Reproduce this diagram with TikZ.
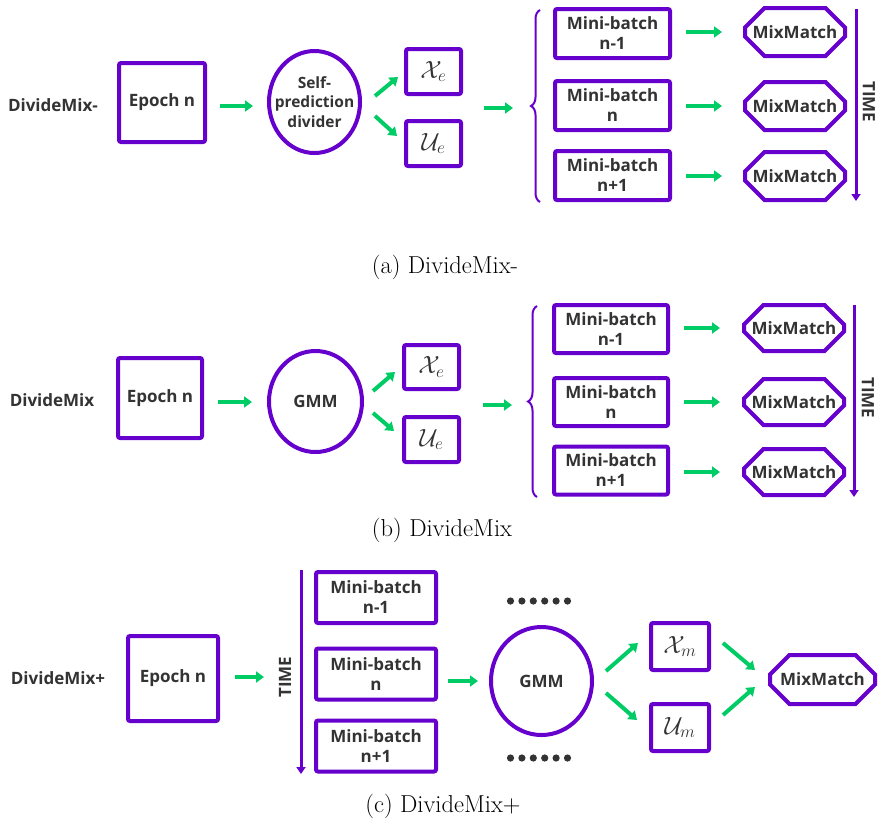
\documentclass[tikz,border=0pt]{standalone}
\usepackage{fontspec}
\setsansfont{Open Sans}
\usetikzlibrary{shapes.geometric,shapes.misc,arrows.meta,decorations.pathreplacing}
\definecolor{pur}{RGB}{102,0,204}
\definecolor{grn}{RGB}{0,204,102}
\definecolor{txt}{RGB}{51,51,51}
\newcommand{\labfont}{\sffamily\bfseries\fontsize{17}{20}\selectfont}
\newcommand{\capfont}{\rmfamily\fontsize{24.5}{28}\selectfont}
\newcommand{\mathfont}{\fontsize{25}{28}\selectfont}
\tikzset{
  lbl/.style={font=\labfont, text=txt, align=center, inner sep=0pt},
  sqbox/.style={draw=pur, line width=4pt, rounded corners=2pt, fill=white, font=\labfont, text=txt, align=center, inner sep=0pt},
  mathbox/.style={sqbox, font=\mathfont},
  circbox/.style={ellipse, draw=pur, line width=4pt, inner sep=0pt},
  mmbox/.style={chamfered rectangle, chamfered rectangle xsep=9pt, chamfered rectangle ysep=13pt, draw=pur, line width=4pt, font=\labfont, text=txt, align=center, inner sep=0pt, minimum width=100pt, minimum height=48pt},
  garrow/.style={draw=grn, line width=4pt, -{Triangle[length=8pt,width=11pt]}},
  timearrow/.style={draw=pur, line width=3pt, -{Triangle[length=7pt,width=9pt]}},
  timelbl/.style={font=\labfont, text=txt, inner sep=0pt},
  bracestyle/.style={draw=pur, line width=2pt, decorate, decoration={brace, amplitude=9pt}},
  caption/.style={font=\capfont, text=black, inner sep=0pt},
}
\begin{document}
\begin{tikzpicture}[x=1pt,y=-1pt]
\useasboundingbox (0,0) rectangle (878,820);
% ---------- (a) ----------
\node[lbl] (ta) at (53,105) {DivideMix-};
\node[sqbox, minimum width=86pt, minimum height=79pt] (epa) at (162,102.5) {Epoch n};
\node[circbox, minimum width=91pt, minimum height=102pt] (spa) at (314.5,102) {};
\node[lbl, font=\sffamily\bfseries\fontsize{15.5}{19.5}\selectfont] (spat) at (spa) {Self-\\prediction\\divider};
\node[mathbox, minimum width=55pt, minimum height=45pt] (xea) at (433.5,71.5) {$\mathcal{X}_e$};
\node[mathbox, minimum width=55pt, minimum height=45pt] (uea) at (433.5,143.5) {$\mathcal{U}_e$};
\foreach \i/\y/\t in {1/33.5/n-1, 2/105.5/n, 3/175.5/n+1}{
  \node[sqbox, minimum width=115pt, minimum height=49pt] (mba\i) at (612.5,\y) {Mini-batch\\\t};
}
\foreach \i/\y in {1/32, 2/106, 3/176}{
  \node[mmbox] (mma\i) at (795,\y) {MixMatch};
}
\draw[garrow, shorten <=13pt, shorten >=14pt] (epa.east |- 0,106) -- (spa.west |- 0,106);
\coordinate (a1s) at (375,96); \coordinate (a1e) at (398,77);
\coordinate (a2s) at (375,116); \coordinate (a2e) at (397,136);
\draw[garrow] (a1s) -- (a1e);
\draw[garrow] (a2s) -- (a2e);
\coordinate (a3s) at (484,108); \coordinate (a3e) at (513,108);
\draw[garrow] (a3s) -- (a3e);
\coordinate (bra1) at (540,202); \coordinate (bra2) at (540,10);
\draw[bracestyle] (bra1) -- (bra2);
\foreach \i in {1,2,3}{
  \draw[garrow, shorten <=14pt, shorten >=21pt] (mba\i.east |- mma\i.west) -- (mma\i.west);
}
\coordinate (tas) at (856,9); \coordinate (tae) at (856,201);
\draw[timearrow] (tas) -- (tae);
\node[timelbl, rotate=-90] (tima) at (869,102) {TIME};
\node[caption] (capa) at (445,267) {(a) DivideMix-};
% ---------- (b) ----------
\node[lbl] (tb) at (52,400) {DivideMix};
\node[sqbox, minimum width=84pt, minimum height=80pt] (epb) at (160,398) {Epoch n};
\node[circbox, minimum width=93pt, minimum height=101pt] (gmmb) at (315.5,401.5) {};
\node[lbl] (gmmbt) at (gmmb) {GMM};
\node[mathbox, minimum width=55pt, minimum height=44pt] (xeb) at (431.5,367) {$\mathcal{X}_e$};
\node[mathbox, minimum width=55pt, minimum height=45pt] (ueb) at (431.5,439.5) {$\mathcal{U}_e$};
\foreach \i/\y/\t in {1/329/n-1, 2/402/n, 3/470.5/n+1}{
  \node[sqbox, minimum width=114pt, minimum height=48pt] (mbb\i) at (611,\y) {Mini-batch\\\t};
}
\foreach \i/\y in {1/328, 2/402, 3/472}{
  \node[mmbox, minimum height=46pt] (mmb\i) at (794,\y) {MixMatch};
}
\draw[garrow, shorten <=14pt, shorten >=15pt] (epb.east |- 0,402) -- (gmmb.west |- 0,402);
\coordinate (b1s) at (373,391); \coordinate (b1e) at (395,372);
\coordinate (b2s) at (373,413); \coordinate (b2e) at (394,431);
\draw[garrow] (b1s) -- (b1e);
\draw[garrow] (b2s) -- (b2e);
\coordinate (b3s) at (483,405); \coordinate (b3e) at (512,405);
\draw[garrow] (b3s) -- (b3e);
\coordinate (brb1) at (537,497); \coordinate (brb2) at (537,306);
\draw[bracestyle] (brb1) -- (brb2);
\foreach \i in {1,2,3}{
  \draw[garrow, shorten <=14pt, shorten >=22pt] (mbb\i.east |- mmb\i.west) -- (mmb\i.west);
}
\coordinate (tbs) at (854,305); \coordinate (tbe) at (854,497);
\draw[timearrow] (tbs) -- (tbe);
\node[timelbl, rotate=-90] (timb) at (868,398) {TIME};
\node[caption] (capb) at (442,530) {(b) DivideMix};
% ---------- (c) ----------
\node[lbl] (tc) at (58,678) {DivideMix+};
\node[sqbox, minimum width=90pt, minimum height=85pt] (epc) at (173,678.5) {Epoch n};
\coordinate (c0s) at (235,677); \coordinate (c0e) at (264,677);
\draw[garrow] (c0s) -- (c0e);
\coordinate (tcs) at (301,570); \coordinate (tce) at (301,774);
\draw[timearrow] (tcs) -- (tce);
\node[timelbl, rotate=90] (timc) at (285,677) {TIME};
\foreach \i/\y/\t in {1/597.5/n-1, 2/674/n, 3/746/n+1}{
  \node[sqbox, minimum width=120pt, minimum height=51pt] (mbc\i) at (376,\y) {Mini-batch\\\t};
}
\node[circbox, minimum width=101pt, minimum height=108pt] (gmmc) at (541.5,681) {};
\node[lbl] (gmmct) at (gmmc) {GMM};
\draw[garrow, shorten <=10pt, shorten >=11pt] (mbc2.east |- gmmc.west) -- (gmmc.west);
\foreach \k in {0,...,5}{
  \fill[txt] (510.5+11.4*\k,601) circle (3.6pt);
  \fill[txt] (510.5+11.4*\k,758) circle (3.6pt);
}
\node[mathbox, minimum width=58pt, minimum height=47pt] (xmc) at (680,646.5) {$\mathcal{X}_m$};
\node[mathbox, minimum width=58pt, minimum height=47pt] (umc) at (680,727.5) {$\mathcal{U}_m$};
\node[mmbox, minimum width=105pt, minimum height=49pt] (mmc) at (822.5,679.5) {MixMatch};
\coordinate (c1s) at (606,671); \coordinate (c1e) at (638,643);
\coordinate (c2s) at (606,693); \coordinate (c2e) at (637,720);
\draw[garrow] (c1s) -- (c1e);
\draw[garrow] (c2s) -- (c2e);
\coordinate (c3s) at (723,643); \coordinate (c3e) at (755,670);
\coordinate (c4s) at (723,715); \coordinate (c4e) at (755,687);
\draw[garrow] (c3s) -- (c3e);
\draw[garrow] (c4s) -- (c4e);
\node[caption] (capc) at (443,806) {(c) DivideMix+};
\end{tikzpicture}
\end{document}
